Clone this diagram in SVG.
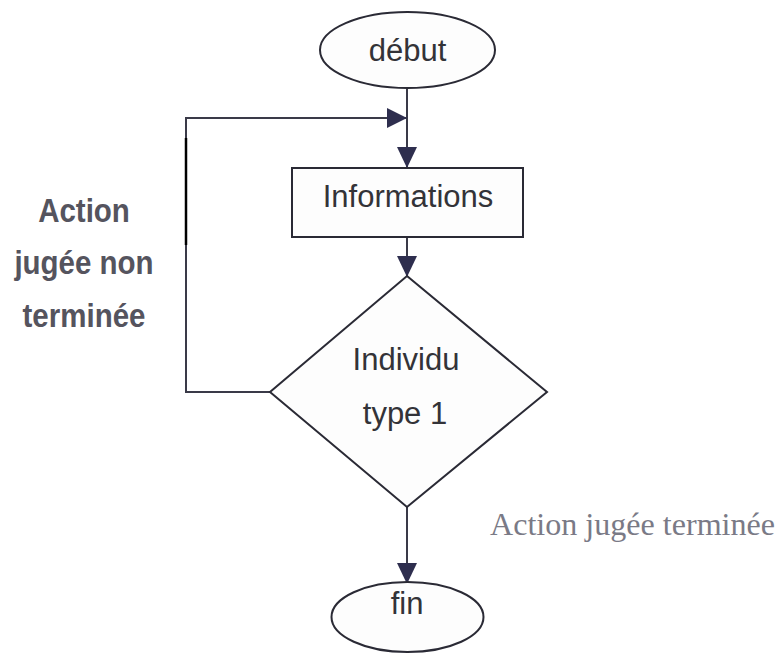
<svg xmlns="http://www.w3.org/2000/svg" width="779" height="664" viewBox="0 0 779 664">
<defs>
<style>
.shape{fill:#fdfdfd;stroke:#2a2a35;stroke-width:2}
.line{fill:none;stroke:#3a3a48;stroke-width:2}
.head{fill:#2e2e4e;stroke:none}
.ntext{font-family:"Liberation Sans",Arial,sans-serif;font-size:31px;fill:#333338;text-anchor:middle}
.ltext{font-family:"Liberation Sans",Arial,sans-serif;font-weight:bold;font-size:29.5px;fill:#55545e;text-anchor:middle}
.rtext{font-family:"Liberation Serif","Times New Roman",serif;font-size:32px;fill:#7a7a86}
</style>
</defs>
<rect width="779" height="664" fill="#ffffff"/>
<g id="connectors">
<line class="line" x1="407" y1="88" x2="407" y2="168"/>
<polygon class="head" points="397,147 417,147 407,168"/>
<line class="line" x1="407" y1="237" x2="407" y2="276"/>
<polygon class="head" points="397,256 417,256 407,277"/>
<polyline class="line" points="270,392 186,392 186,118 407,118"/>
<line x1="186" y1="138" x2="186" y2="245" stroke="#000" stroke-width="2.5"/>
<polygon class="head" points="387,108 387,128 407,118"/>
<line class="line" x1="407" y1="507" x2="407" y2="583"/>
<polygon class="head" points="397,563 417,563 407,584"/>
</g>
<g id="debut">
<ellipse class="shape" cx="407.5" cy="50" rx="87.5" ry="38"/>
<text class="ntext" x="407.5" y="61">début</text>
</g>
<g id="informations">
<rect class="shape" x="292" y="168" width="231" height="69"/>
<text class="ntext" x="408" y="207">Informations</text>
</g>
<g id="individu">
<polygon class="shape" points="407,276 547,392 407,507 270,392"/>
<text class="ntext" x="406" y="370">Individu</text>
<text class="ntext" x="405" y="424">type 1</text>
</g>
<g id="fin">
<ellipse class="shape" cx="407.5" cy="617" rx="76" ry="35"/>
<text class="ntext" x="407" y="614">fin</text>
</g>
<g id="labels">
<text class="ltext" transform="translate(84,222) scale(1,1.1)">Action</text>
<text class="ltext" transform="translate(84,274) scale(1,1.1)">jugée non</text>
<text class="ltext" transform="translate(84,327) scale(1,1.1)">terminée</text>
<text class="rtext" x="490" y="535" textLength="285" lengthAdjust="spacingAndGlyphs">Action jugée terminée</text>
</g>
</svg>
